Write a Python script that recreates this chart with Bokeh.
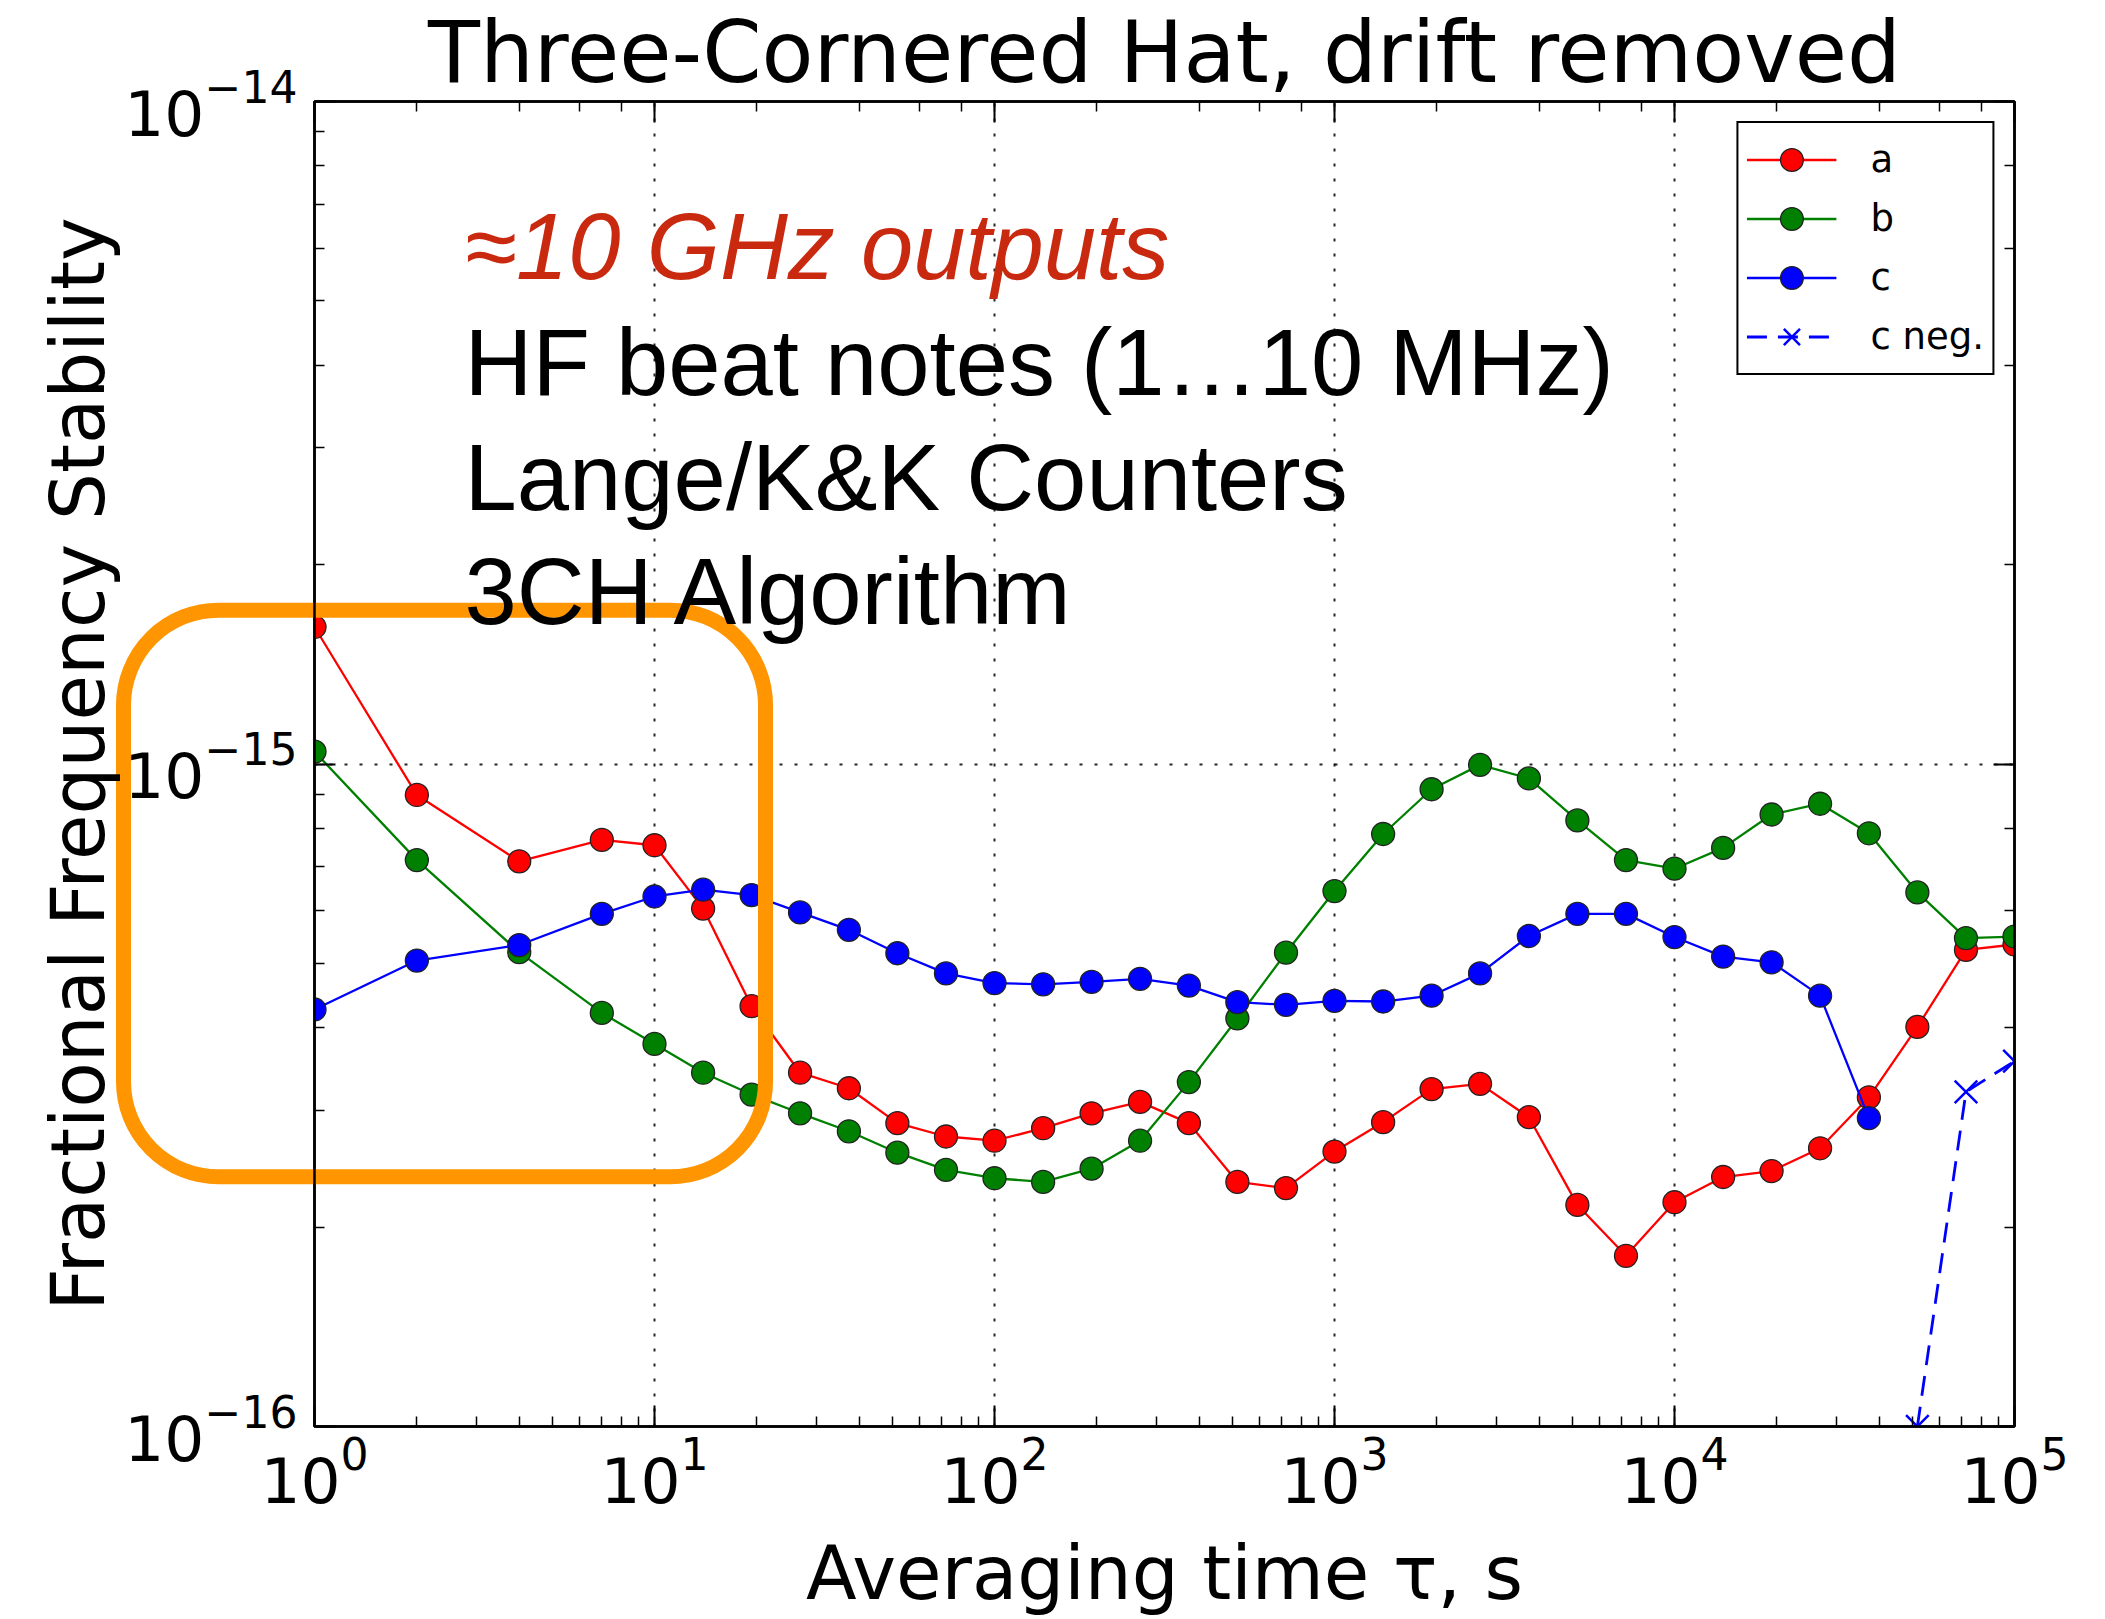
from bokeh.plotting import figure
from bokeh.models import (Range1d, LogAxis, LogTicker, Legend, LegendItem, Label,
                          CustomJSTickFormatter, Quad)
from bokeh.embed import file_html
from bokeh.resources import INLINE

# ---------------- data ----------------
tau = [1, 2, 4, 7, 10, 13.9, 19.3, 26.8, 37.3, 51.8, 72, 100, 139, 193, 268, 373, 518, 720,
       1000, 1390, 1930, 2680, 3730, 5180, 7200, 10000, 13900, 19300, 26800, 37300, 51800,
       72000, 100000]

a_vals = [1.61e-15, 8.98e-16, 7.13e-16, 7.68e-16, 7.54e-16, 6.05e-16, 4.31e-16, 3.42e-16,
          3.24e-16, 2.87e-16, 2.74e-16, 2.70e-16, 2.82e-16, 2.97e-16, 3.09e-16, 2.87e-16,
          2.34e-16, 2.29e-16, 2.60e-16, 2.88e-16, 3.23e-16, 3.29e-16, 2.93e-16, 2.16e-16,
          1.81e-16, 2.18e-16, 2.38e-16, 2.43e-16, 2.63e-16, 3.14e-16, 4.01e-16, 5.24e-16,
          5.34e-16]

b_vals = [1.044e-15, 7.16e-16, 5.20e-16, 4.21e-16, 3.78e-16, 3.42e-16, 3.17e-16, 2.97e-16,
          2.79e-16, 2.59e-16, 2.44e-16, 2.37e-16, 2.34e-16, 2.45e-16, 2.70e-16, 3.31e-16,
          4.13e-16, 5.19e-16, 6.43e-16, 7.84e-16, 9.16e-16, 9.97e-16, 9.51e-16, 8.22e-16,
          7.16e-16, 6.95e-16, 7.47e-16, 8.39e-16, 8.71e-16, 7.86e-16, 6.40e-16, 5.46e-16,
          5.49e-16]

c_tau = tau[:30]
c_vals = [4.26e-16, 5.05e-16, 5.33e-16, 5.94e-16, 6.31e-16, 6.46e-16, 6.34e-16, 5.97e-16,
          5.62e-16, 5.18e-16, 4.83e-16, 4.67e-16, 4.65e-16, 4.69e-16, 4.74e-16, 4.63e-16,
          4.37e-16, 4.33e-16, 4.39e-16, 4.38e-16, 4.47e-16, 4.83e-16, 5.50e-16, 5.94e-16,
          5.94e-16, 5.48e-16, 5.12e-16, 5.02e-16, 4.47e-16, 2.92e-16]

cneg_tau = [51800, 72000, 100000]
cneg_vals = [1.0e-16, 3.20e-16, 3.56e-16]

x_limits = [1, 100000]
y_limits = [1e-16, 1e-14]

series_labels = ["a", "b", "c", "c neg."]
title_text = "Three-Cornered Hat, drift removed"
x_label = "Averaging time \u03c4, s"
y_label = "Fractional Frequency Stability"
notes = ["\u224810 GHz outputs", "HF beat notes (1\u202610 MHz)", "Lange/K&K Counters",
         "3CH Algorithm"]

# highlight box (slide overlay) drawn on the chart's own log scales
box_left, box_right = 0.2743, 21.21
box_top, box_bottom = 1.707e-15, 2.382e-16

# ---------------- figure ----------------
FONT = "DejaVu Sans"

p = figure(width=2105, height=1619, x_axis_type="log", y_axis_type="log",
           x_range=Range1d(*x_limits), y_range=Range1d(*y_limits),
           output_backend="svg", toolbar_location=None,
           min_border_left=314, min_border_right=91, min_border_top=100,
           min_border_bottom=193)
p.background_fill_color = "white"
p.border_fill_color = "white"
p.outline_line_color = "black"
p.outline_line_width = 2.5

p.title.text = title_text
p.title.align = "center"
p.title.text_font = FONT
p.title.text_font_size = "85px"
p.title.text_font_style = "normal"
p.title.text_color = "black"
p.title.standoff = 0


def style_axis(ax):
    ax.axis_line_color = "black"
    ax.axis_line_width = 2.5
    ax.major_tick_in = 21
    ax.major_tick_out = 0
    ax.minor_tick_in = 10
    ax.minor_tick_out = 0
    ax.major_tick_line_color = "black"
    ax.minor_tick_line_color = "black"
    ax.major_tick_line_width = 2
    ax.minor_tick_line_width = 1.5


bottom_ax = p.below[0]
left_ax = p.left[0]
for ax in (bottom_ax, left_ax):
    style_axis(ax)
    ax.major_label_text_font = FONT
    ax.major_label_text_font_size = "63px"
    ax.major_label_text_color = "black"
    ax.axis_label_text_font = FONT
    ax.axis_label_text_font_size = "74px"
    ax.axis_label_text_font_style = "normal"
    ax.axis_label_text_color = "black"

bottom_ax.axis_label = x_label
bottom_ax.major_label_standoff = 8
bottom_ax.axis_label_standoff = 24
left_ax.axis_label = y_label
left_ax.major_label_standoff = 17
left_ax.axis_label_standoff = 0

empty = CustomJSTickFormatter(code="return ''")
for loc in ("above", "right"):
    ax = LogAxis(ticker=LogTicker(), formatter=empty)
    style_axis(ax)
    ax.major_label_text_font_size = "1px"
    ax.major_label_standoff = 0
    p.add_layout(ax, loc)

for g in (p.xgrid, p.ygrid):
    g.grid_line_color = "black"
    g.grid_line_dash = "3 12"
    g.grid_line_width = 2
    g.grid_line_alpha = 0.85

# ---------------- data glyphs ----------------
MS = 23
LW = 2.3
la = p.line(tau, a_vals, line_color="#ff0000", line_width=LW)
sa = p.scatter(tau, a_vals, marker="circle", size=MS, fill_color="#ff0000",
               line_color="#222222", line_width=1.3)
lb = p.line(tau, b_vals, line_color="#008000", line_width=LW)
sb = p.scatter(tau, b_vals, marker="circle", size=MS, fill_color="#008000",
               line_color="#222222", line_width=1.3)
lc = p.line(c_tau, c_vals, line_color="#0000ff", line_width=LW)
sc = p.scatter(c_tau, c_vals, marker="circle", size=MS, fill_color="#0000ff",
               line_color="#222222", line_width=1.3)
ln = p.line(cneg_tau, cneg_vals, line_color="#0000ff", line_width=2.8, line_dash="20 11")
sn = p.scatter(cneg_tau, cneg_vals, marker="x", size=32, line_color="#0000ff", line_width=2.5)

legend = Legend(items=[LegendItem(label=series_labels[0], renderers=[la, sa]),
                       LegendItem(label=series_labels[1], renderers=[lb, sb]),
                       LegendItem(label=series_labels[2], renderers=[lc, sc]),
                       LegendItem(label=series_labels[3], renderers=[ln, sn])],
                location="top_right", margin=20, padding=8, spacing=2,
                glyph_width=90, glyph_height=57, label_standoff=34,
                label_text_font=FONT, label_text_font_size="37px",
                label_text_color="black",
                border_line_color="black", border_line_width=2.5, border_line_alpha=1,
                background_fill_color="white", background_fill_alpha=1)
p.add_layout(legend)

# ---------------- slide overlay: notes and orange box ----------------
note_y = [1180, 1064, 949, 835]
for i, t in enumerate(notes):
    p.add_layout(Label(x=150, y=note_y[i], x_units="screen", y_units="screen", text=t,
                       text_baseline="alphabetic", text_font="Liberation Sans",
                       text_font_size="94px",
                       text_font_style="italic" if i == 0 else "normal",
                       text_color="#c8290f" if i == 0 else "black"))

box_kw = dict(left=[box_left], right=[box_right], top=[box_top], bottom=[box_bottom],
              fill_alpha=0, line_color="#ff9500", line_width=15, line_alpha=1,
              level="guide")
if "border_radius" in Quad.properties():
    box_kw["border_radius"] = 95
p.quad(**box_kw)

open("out.html", "w").write(file_html(p, INLINE))
